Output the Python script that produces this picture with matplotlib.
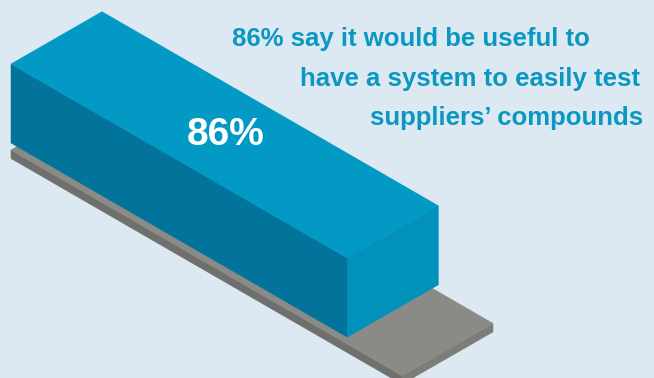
import numpy as np
import matplotlib.pyplot as plt
from matplotlib.patches import Polygon

# survey result shown as a single isometric bar on a 100% base plate
value = 86
scale_max = 100
headline = [
    "86% say it would be useful to",
    "have a system to easily test",
    "suppliers\u2019 compounds",
]
bar_label = f"{value}%"

BG = "#DDE9F2"
TEAL_TOP = "#0399C5"
TEAL_SIDE = "#02739A"
TEAL_END = "#0191BA"
GREY_TOP = "#8A8B87"
GREY_SIDE = "#6F706D"
GREY_END = "#7C7D79"
TEXT = "#0A97C1"

# isometric axes in pixel space (y grows downward)
ORIGIN = np.array([11.0, 150.0])
U = np.array([391.0, 225.7]) / scale_max   # along the bar, per percent
V = np.array([91.0, -52.3])                 # across the bar (full depth)
W = np.array([0.0, -1.0])                   # up, per pixel


def P(u, v, w):
    return ORIGIN + u * U + v * V + w * W


def box(ax, u1, h, lift, top, side, end):
    # long front side
    ax.add_patch(Polygon([P(0, 0, lift), P(u1, 0, lift), P(u1, 0, lift + h), P(0, 0, lift + h)],
                         closed=True, fc=side, ec=side, lw=0.4))
    # end face
    ax.add_patch(Polygon([P(u1, 0, lift), P(u1, 1, lift), P(u1, 1, lift + h), P(u1, 0, lift + h)],
                         closed=True, fc=end, ec=end, lw=0.4))
    # top
    ax.add_patch(Polygon([P(0, 0, lift + h), P(u1, 0, lift + h), P(u1, 1, lift + h), P(0, 1, lift + h)],
                         closed=True, fc=top, ec=top, lw=0.4))


fig = plt.figure(figsize=(6.54, 3.78), dpi=100)
fig.patch.set_facecolor(BG)
ax = fig.add_axes([0, 0, 1, 1])
ax.set_xlim(0, 654)
ax.set_ylim(378, 0)
ax.axis("off")

# base plate (full scale) then the bar on top of it
box(ax, scale_max, 8.5, -8.5, GREY_TOP, GREY_SIDE, GREY_END)
box(ax, value, 79, 7, TEAL_TOP, TEAL_SIDE, TEAL_END)

ax.text(187, 145, bar_label, color="white", fontsize=28, fontweight="bold",
        family="Liberation Sans", ha="left", va="baseline")

xs = [232, 300, 370]
ys = [46, 86, 125]
for s, x, y in zip(headline, xs, ys):
    ax.text(x, y, s, color=TEXT, fontsize=18.5, fontweight="bold",
            family="Liberation Sans", ha="left", va="baseline")

fig.savefig("out.png", dpi=100, facecolor=BG)
